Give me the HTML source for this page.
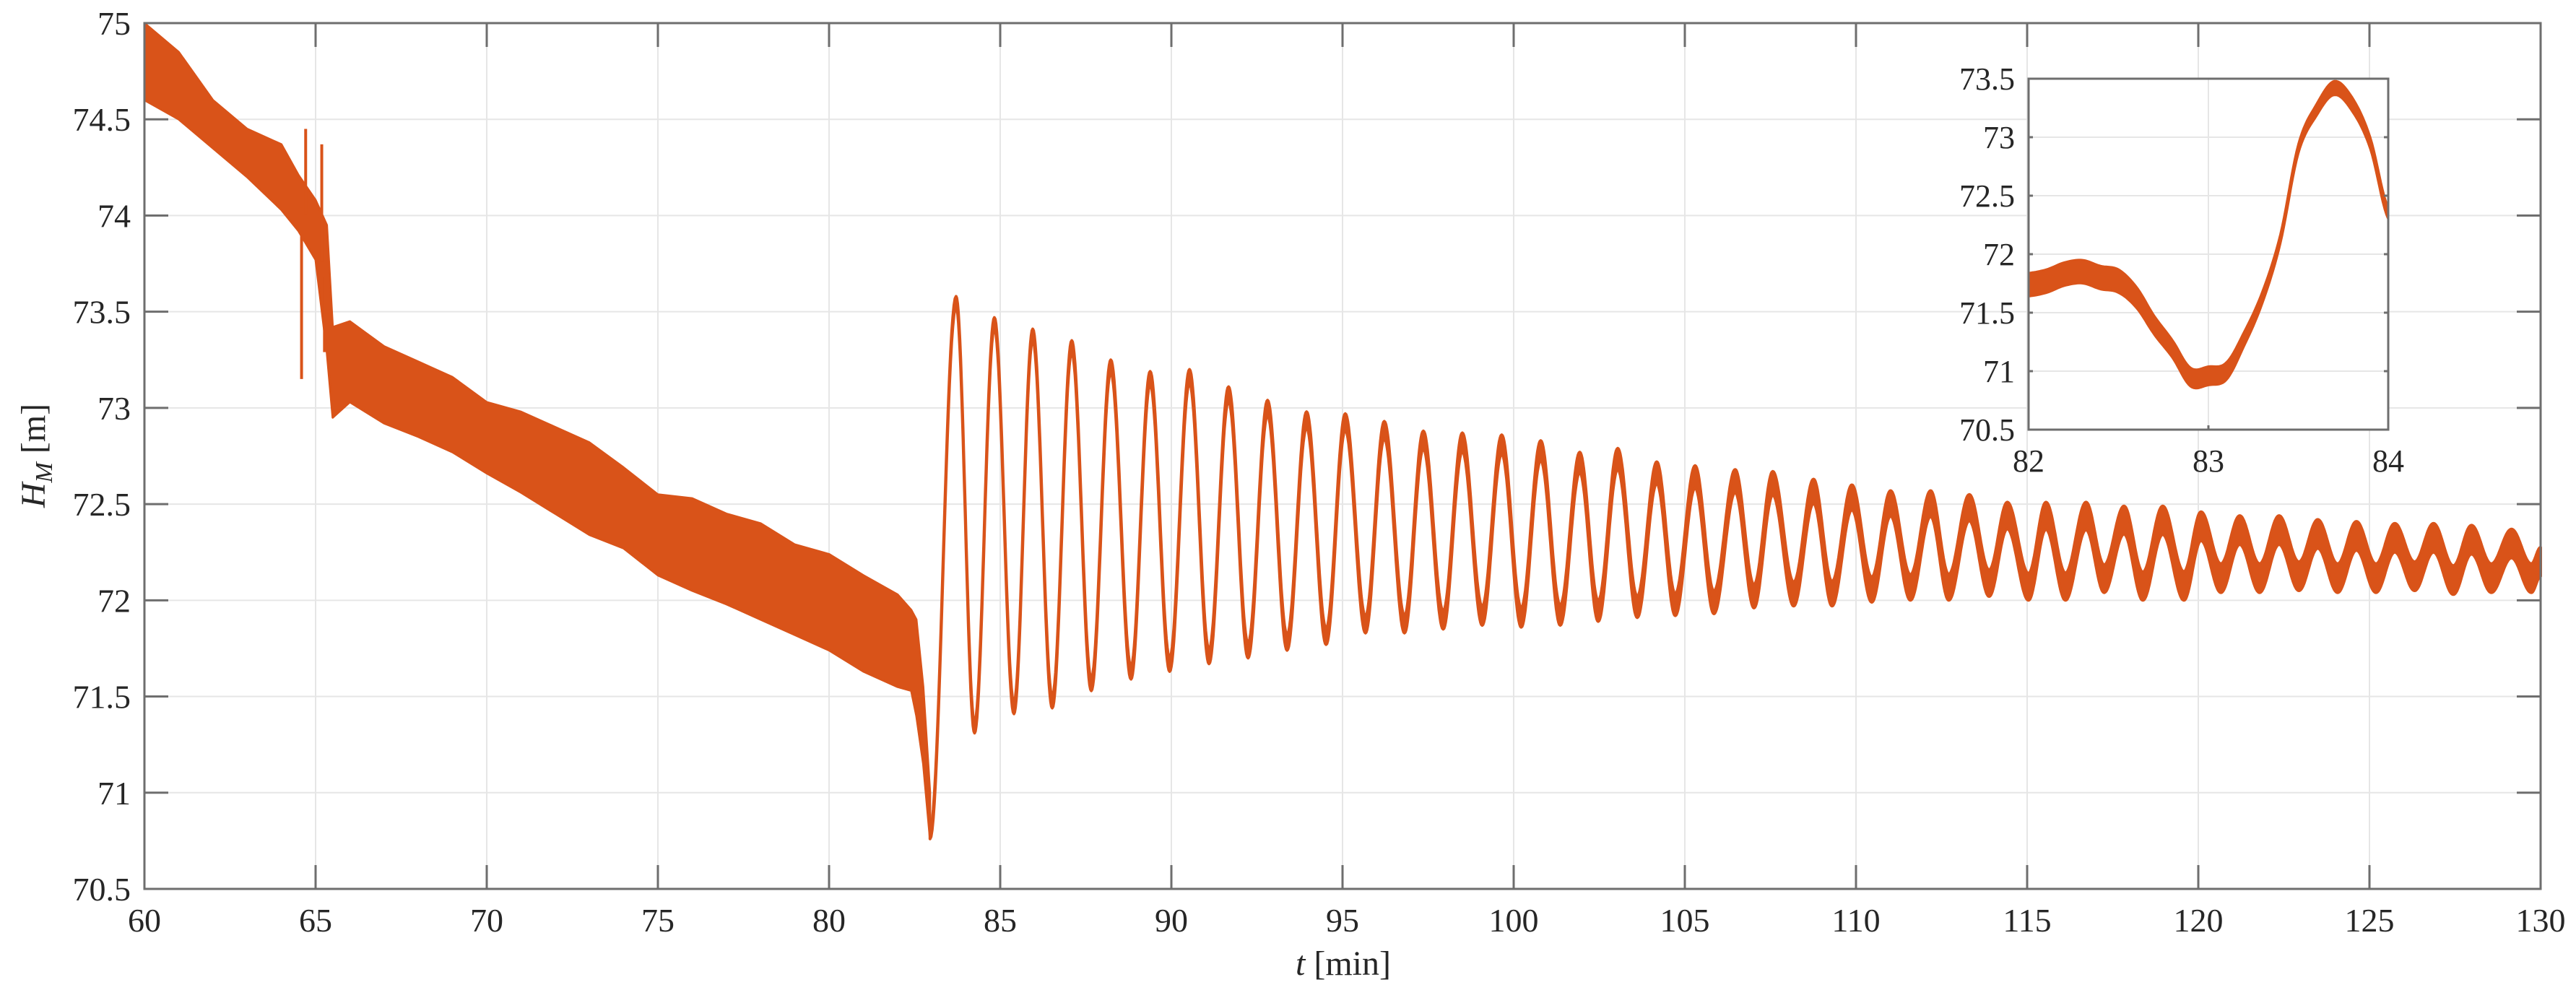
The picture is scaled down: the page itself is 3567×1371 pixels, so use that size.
<!DOCTYPE html>
<html><head><meta charset="utf-8">
<style>
html,body{margin:0;padding:0;background:#fff;}
svg{display:block;}
text{font-family:"Liberation Serif",serif;fill:#262626;}
</style></head>
<body>
<svg id="chart" width="3567" height="1371" viewBox="0 0 3567 1371" xmlns="http://www.w3.org/2000/svg">
<rect x="0" y="0" width="3567" height="1371" fill="#fff"/>
<g id="main"></g>
<g id="inset"></g>
<text x="1860" y="1350" font-size="48" text-anchor="middle"><tspan font-style="italic">t</tspan>  [min]</text>
<text transform="translate(62,631) rotate(-90)" font-size="48" text-anchor="middle"><tspan font-style="italic">H</tspan><tspan font-style="italic" font-size="34" dy="10">M</tspan><tspan dy="-10">  [m]</tspan></text>
</svg>
<script>
// ---- main chart data ----
const xTicks = [60,65,70,75,80,85,90,95,100,105,110,115,120,125,130];
const yTicks = [70.5,71,71.5,72,72.5,73,73.5,74,74.5,75];
const yTickLabels = ["70.5","71","71.5","72","72.5","73","73.5","74","74.5","75"];
// noisy drawdown 60-83 min: envelope
const envT = [60,61,62,63,64,64.5,65,65.33,65.5,66,67,68,69,70,71,72,73,74,75,76,77,78,79,80,81,82,82.4,82.55,82.75,82.95];
const envUpper = [75.0,74.85,74.6,74.45,74.37,74.21,74.08,73.95,73.42,73.45,73.32,73.24,73.16,73.03,72.98,72.9,72.82,72.69,72.55,72.53,72.45,72.4,72.29,72.24,72.13,72.03,71.95,71.9,71.55,71.0];
const envLower = [74.6,74.5,74.35,74.2,74.03,73.92,73.77,73.29,72.95,73.03,72.92,72.85,72.77,72.66,72.56,72.45,72.34,72.27,72.13,72.05,71.98,71.9,71.82,71.74,71.63,71.55,71.53,71.4,71.15,70.76];
const spikeT = [64.59,64.71,65.18,65.26];
const spikeV = [73.15,74.45,74.37,73.29];
// oscillation extremes (alternating trough / peak, outer edges of noisy band)
const oscT = [82.95,83.71,84.25,84.83,85.4,85.95,86.52,87.09,87.66,88.23,88.82,89.38,89.95,90.53,91.1,91.67,92.24,92.81,93.38,93.95,94.52,95.08,95.67,96.22,96.81,97.36,97.94,98.5,99.08,99.65,100.22,100.79,101.36,101.93,102.47,103.04,103.61,104.18,104.72,105.3,105.85,106.47,107.02,107.57,108.18,108.76,109.3,109.88,110.46,111.01,111.59,112.18,112.71,113.31,113.89,114.42,115.04,115.55,116.12,116.72,117.25,117.83,118.38,118.96,119.58,120.08,120.66,121.21,121.79,122.36,122.94,123.49,124.07,124.62,125.19,125.74,126.32,126.87,127.45,127.98,128.56,129.15,129.73,130];
const oscV = [70.76,73.58,71.31,73.47,71.41,73.41,71.44,73.35,71.53,73.25,71.59,73.19,71.63,73.2,71.67,73.11,71.7,73.04,71.74,72.98,71.77,72.97,71.83,72.93,71.83,72.88,71.85,72.87,71.87,72.86,71.86,72.83,71.87,72.77,71.89,72.79,71.91,72.72,71.92,72.7,71.93,72.68,71.96,72.67,71.97,72.63,71.97,72.6,71.99,72.57,72.0,72.57,72.0,72.55,72.02,72.51,72.0,72.51,72.0,72.51,72.04,72.49,72.0,72.49,72.0,72.46,72.04,72.44,72.04,72.44,72.05,72.42,72.04,72.41,72.04,72.4,72.05,72.4,72.03,72.39,72.04,72.37,72.04,72.2];
const noiseT = [82.95,90,100,110,120,130];
const noiseW = [0.05,0.07,0.1,0.13,0.15,0.15];
// ---- inset data ----
const inXTicks = [82,83,84];
const inYTicks = [70.5,71,71.5,72,72.5,73,73.5];
const inYTickLabels = ["70.5","71","71.5","72","72.5","73","73.5"];
const inT = [82,82.1,82.2,82.3,82.4,82.5,82.6,82.7,82.8,82.9,83,83.1,83.2,83.3,83.4,83.5,83.6,83.7,83.8,83.9,84];
const inV = [71.74,71.77,71.83,71.85,71.8,71.77,71.63,71.39,71.19,70.95,70.96,71.0,71.28,71.63,72.13,72.9,73.23,73.42,73.28,72.95,72.35];
const inW = [0.2,0.2,0.2,0.2,0.2,0.2,0.18,0.16,0.15,0.16,0.16,0.15,0.12,0.1,0.08,0.08,0.1,0.12,0.12,0.1,0.1];

const NS = "http://www.w3.org/2000/svg";
const COLOR = "#D95319";
function mk(tag, attrs, parent){const e=document.createElementNS(NS,tag);for(const k in attrs)e.setAttribute(k,attrs[k]);parent.appendChild(e);return e;}
function lerpArr(ts, vs, t){ if(t<=ts[0])return vs[0]; for(let i=1;i<ts.length;i++){ if(t<=ts[i]){const u=(t-ts[i-1])/(ts[i]-ts[i-1]);return vs[i-1]+u*(vs[i]-vs[i-1]);} } return vs[vs.length-1]; }

// main axes geometry
const L=200,R=3518,T=32,B=1231;
const xMin=60,xMax=130,yMin=70.5,yMax=75;
const xs = t => L+(t-xMin)/(xMax-xMin)*(R-L);
const ys = v => B-(v-yMin)/(yMax-yMin)*(B-T);
const main=document.getElementById('main');

// grid
xTicks.forEach(t=>{const g=mk('line',{x1:xs(t),x2:xs(t),y1:T,y2:B,stroke:'#e6e6e6','stroke-width':2},main);

});
yTicks.forEach(v=>{const g=mk('line',{x1:L,x2:R,y1:ys(v),y2:ys(v),stroke:'#e6e6e6','stroke-width':2},main);

});

// envelope band
let pts=[];
for(let i=0;i<envT.length;i++)pts.push(xs(envT[i]).toFixed(1)+','+ys(envUpper[i]).toFixed(1));
for(let i=envT.length-1;i>=0;i--)pts.push(xs(envT[i]).toFixed(1)+','+ys(envLower[i]).toFixed(1));
const band=mk('polygon',{points:pts.join(' '),fill:COLOR,stroke:COLOR,'stroke-width':3,'stroke-linejoin':'round'},main);


spikeT.forEach((t,i)=>{const c=(lerpArr(envT,envUpper,t)+lerpArr(envT,envLower,t))/2;
const s=mk('line',{x1:xs(t),x2:xs(t),y1:ys(c),y2:ys(spikeV[i]),stroke:COLOR,'stroke-width':4},main);

});

// oscillation band
let up=[],lo=[];
for(let i=1;i<oscT.length;i++){
  const t0=oscT[i-1],t1=oscT[i];
  const w0=lerpArr(noiseT,noiseW,t0), w1=lerpArr(noiseT,noiseW,t1);
  const sign0 = oscV[i-1]>oscV[i]?-1:1; // trough gets +w/2 to centre
  const c0=oscV[i-1]+ (i-1===0? w0/2 : (oscV[i-1]<oscV[i]? w0/2 : -w0/2));
  const c1=(i===oscT.length-1)?oscV[i]:(oscV[i]<oscV[i-1]? oscV[i]+w1/2 : oscV[i]-w1/2);
  const N=24;
  for(let k=(i===1?0:1);k<=N;k++){
    const u=k/N, t=t0+(t1-t0)*u;
    const v=c0+(c1-c0)*(1-Math.cos(Math.PI*u))/2;
    const w=lerpArr(noiseT,noiseW,t);
    up.push(xs(t).toFixed(1)+','+ys(v+w/2).toFixed(1));
    lo.push(xs(t).toFixed(1)+','+ys(v-w/2).toFixed(1));
  }
}
const osc=mk('polygon',{points:up.concat(lo.reverse()).join(' '),fill:COLOR,stroke:COLOR,'stroke-width':4,'stroke-linejoin':'round'},main);



// axes box & ticks
const box=mk('rect',{x:L,y:T,width:R-L,height:B-T,fill:'none',stroke:'#6e6e6e','stroke-width':3},main);


xTicks.forEach(t=>{
  mk('line',{x1:xs(t),x2:xs(t),y1:B,y2:B-33,stroke:'#6e6e6e','stroke-width':3},main);
  mk('line',{x1:xs(t),x2:xs(t),y1:T,y2:T+33,stroke:'#6e6e6e','stroke-width':3},main);
  const tx=mk('text',{x:xs(t),y:1290,'font-size':46,'text-anchor':'middle'},main);
  tx.textContent=String(t);
  
  
});
yTicks.forEach((v,i)=>{
  mk('line',{x1:L,x2:L+33,y1:ys(v),y2:ys(v),stroke:'#6e6e6e','stroke-width':3},main);
  mk('line',{x1:R,x2:R-33,y1:ys(v),y2:ys(v),stroke:'#6e6e6e','stroke-width':3},main);
  const tx=mk('text',{x:181,y:ys(v)+16,'font-size':46,'text-anchor':'end'},main);
  tx.textContent=yTickLabels[i];
  
  
});

// ---- inset ----
const iL=2809,iR=3307,iT=109,iB=595;
const ixs=t=>iL+(t-82)/2*(iR-iL);
const iys=v=>iB-(v-70.5)/3*(iB-iT);
const ins=document.getElementById('inset');
const ibg=mk('rect',{x:iL,y:iT,width:iR-iL,height:iB-iT,fill:'#fff'},ins);


inXTicks.forEach(t=>{const g=mk('line',{x1:ixs(t),x2:ixs(t),y1:iT,y2:iB,stroke:'#e6e6e6','stroke-width':2},ins);

});
inYTicks.forEach(v=>{const g=mk('line',{x1:iL,x2:iR,y1:iys(v),y2:iys(v),stroke:'#e6e6e6','stroke-width':2},ins);

});
// catmull-rom sampled band
let iu=[],il=[];
for(let i=0;i<inT.length-1;i++){
  const p0=inV[Math.max(0,i-1)],p1=inV[i],p2=inV[i+1],p3=inV[Math.min(inV.length-1,i+2)];
  const N=10;
  for(let k=(i===0?0:1);k<=N;k++){
    const u=k/N,t=inT[i]+(inT[i+1]-inT[i])*u;
    const v=0.5*((2*p1)+(-p0+p2)*u+(2*p0-5*p1+4*p2-p3)*u*u+(-p0+3*p1-3*p2+p3)*u*u*u);
    const w=inW[i]+(inW[i+1]-inW[i])*u;
    iu.push(ixs(t).toFixed(1)+','+iys(v+w/2).toFixed(1));
    il.push(ixs(t).toFixed(1)+','+iys(v-w/2).toFixed(1));
  }
}
const isr=mk('polygon',{points:iu.concat(il.reverse()).join(' '),fill:COLOR,stroke:COLOR,'stroke-width':3,'stroke-linejoin':'round'},ins);


const ibox=mk('rect',{x:iL,y:iT,width:iR-iL,height:iB-iT,fill:'none',stroke:'#6e6e6e','stroke-width':3},ins);


inXTicks.forEach(t=>{
  mk('line',{x1:ixs(t),x2:ixs(t),y1:iB,y2:iB-6,stroke:'#6e6e6e','stroke-width':3},ins);
  const tx=mk('text',{x:ixs(t),y:653,'font-size':44,'text-anchor':'middle'},ins);
  tx.textContent=String(t);
  
  
});
inYTicks.forEach((v,i)=>{
  mk('line',{x1:iL,x2:iL+6,y1:iys(v),y2:iys(v),stroke:'#6e6e6e','stroke-width':3},ins);
  mk('line',{x1:iR,x2:iR-6,y1:iys(v),y2:iys(v),stroke:'#6e6e6e','stroke-width':3},ins);
  const tx=mk('text',{x:2790,y:iys(v)+15,'font-size':44,'text-anchor':'end'},ins);
  tx.textContent=inYTickLabels[i];
  
  
});
</script>
</body></html>
